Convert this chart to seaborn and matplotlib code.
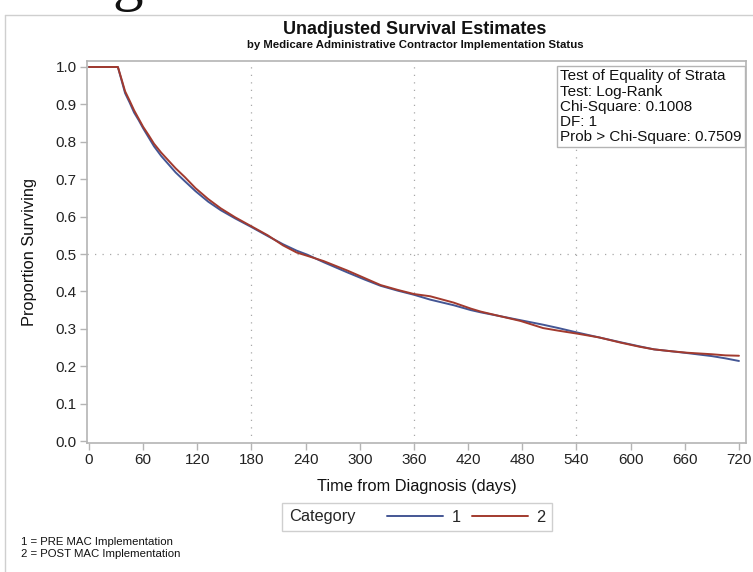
import matplotlib
matplotlib.use("Agg")
import matplotlib.pyplot as plt
from matplotlib import font_manager
from matplotlib.lines import Line2D
from matplotlib.offsetbox import HPacker
import pandas as pd
import seaborn as sns

# ---- Kaplan-Meier estimates (days, proportion surviving) ----
days_1 = [0, 32, 36, 40, 45, 50, 55, 60, 66, 72, 80, 88, 96, 106, 118, 132,
          146, 162, 180, 198, 215, 230, 242, 260, 286, 305, 323, 342, 360,
          378, 404, 423, 434, 455, 478, 503, 520, 541, 565, 589, 610, 626,
          645, 663, 690, 705, 720]
surv_1 = [1.0, 1.0, 0.965, 0.93, 0.905, 0.878, 0.858, 0.836, 0.812, 0.788,
          0.762, 0.740, 0.718, 0.695, 0.668, 0.640, 0.617, 0.595, 0.572,
          0.548, 0.526, 0.509, 0.498, 0.478, 0.451, 0.432, 0.415, 0.402,
          0.391, 0.378, 0.363, 0.350, 0.344, 0.334, 0.323, 0.311, 0.302,
          0.290, 0.277, 0.264, 0.253, 0.245, 0.240, 0.235, 0.227, 0.221,
          0.214]

days_2 = [0, 32, 36, 40, 45, 50, 55, 60, 66, 72, 80, 88, 96, 106, 118, 132,
          146, 162, 180, 198, 215, 230, 242, 260, 286, 305, 323, 342, 360,
          378, 404, 423, 434, 455, 478, 503, 520, 541, 565, 589, 610, 626,
          645, 663, 690, 705, 720]
surv_2 = [1.0, 1.0, 0.968, 0.935, 0.91, 0.884, 0.862, 0.840, 0.818, 0.795,
          0.771, 0.750, 0.729, 0.706, 0.676, 0.647, 0.622, 0.598, 0.574,
          0.550, 0.523, 0.504, 0.495, 0.481, 0.456, 0.436, 0.417, 0.404,
          0.393, 0.387, 0.370, 0.354, 0.346, 0.334, 0.321, 0.302, 0.295,
          0.287, 0.277, 0.263, 0.252, 0.245, 0.240, 0.236, 0.232, 0.229,
          0.228]

categories = ["1", "2"]
category_colors = ["#445694", "#A23A2E"]

x_ticks = list(range(0, 721, 60))
y_ticks = [round(v * 0.1, 1) for v in range(11)]
ref_days = [180, 360, 540]
ref_surv = 0.5

stats_lines = ["Test of Equality of Strata",
               "Test: Log-Rank",
               "Chi-Square: 0.1008",
               "DF: 1",
               "Prob > Chi-Square: 0.7509"]
footnotes = ["1 = PRE MAC Implementation",
             "2 = POST MAC Implementation"]

df = pd.concat([
    pd.DataFrame({"day": days_1, "surv": surv_1, "Category": categories[0]}),
    pd.DataFrame({"day": days_2, "surv": surv_2, "Category": categories[1]}),
], ignore_index=True)

sns.set_theme(style="white")
installed = {f.name for f in font_manager.fontManager.ttflist}
base_font = "Liberation Sans" if "Liberation Sans" in installed else "DejaVu Sans"
serif_font = "Liberation Serif" if "Liberation Serif" in installed else "DejaVu Serif"
plt.rcParams["font.family"] = [base_font, "DejaVu Sans"]

W, H = 753, 572
fig = plt.figure(figsize=(W / 100, H / 100), dpi=100)
fig.patch.set_facecolor("white")


def fx(px):
    return px / W


def fy(py):
    return 1 - py / H


ax_l, ax_r, ax_t, ax_b = 87, 746, 61, 443
ax = fig.add_axes([fx(ax_l), fy(ax_b), (ax_r - ax_l) / W, (ax_b - ax_t) / H])

# reference lines
for d in ref_days:
    ax.axvline(d, color="#a8a8a8", lw=0.9, ls=(0, (1, 5)), zorder=1)
ax.axhline(ref_surv, color="#a8a8a8", lw=0.9, ls=(0, (1, 5)), zorder=1)

sns.lineplot(data=df, x="day", y="surv", hue="Category",
             palette=dict(zip(categories, category_colors)),
             estimator=None, sort=False, lw=1.4, legend=False, ax=ax, zorder=3)

ax.set_xlim(-2.2, 727.8)
ax.set_ylim(-0.0053, 1.016)
ax.set_xticks(x_ticks)
ax.set_yticks(y_ticks)
ax.set_yticklabels([f"{v:.1f}" for v in y_ticks])
ax.tick_params(axis="both", which="both", direction="out", length=5, width=1,
               color="#b4b4b4", labelcolor="#222222", labelsize=11, pad=2.5,
               bottom=True, left=True)
for s in ax.spines.values():
    s.set_color("#b4b4b4")
    s.set_linewidth(1.2)
ax.set_xlabel("Time from Diagnosis (days)", fontsize=11.8, color="#111111", labelpad=8)
ax.set_ylabel("Proportion Surviving", fontsize=11.8, color="#111111", labelpad=13)

# log-rank test inset
ax.text(0.718, 0.978, "\n".join(stats_lines), transform=ax.transAxes,
        ha="left", va="top", fontsize=11, color="#111111", linespacing=1.1,
        bbox=dict(boxstyle="square,pad=0.22", fc="white", ec="#b4b4b4", lw=1),
        zorder=5)

# titles
fig.text(fx(415), fy(29.5), "Unadjusted Survival Estimates", ha="center", va="center",
         fontsize=13, fontweight="bold", color="#111111")
fig.text(fx(415), fy(45.5), "by Medicare Administrative Contractor Implementation Status",
         ha="center", va="center", fontsize=8.2, fontweight="bold", color="#111111")

# legend: inline title followed by the two line entries
handles = [Line2D([], [], color=c, lw=1.4) for c in category_colors]
leg = fig.legend(handles, categories, title="Category", ncol=2, loc="center",
                 bbox_to_anchor=(fx(417), fy(517)), frameon=True, fancybox=False,
                 fontsize=11.8, title_fontsize=11.8, handlelength=3.4,
                 handletextpad=0.5, columnspacing=0.7, borderpad=0.3)
fs = leg._fontsize * 100 / 72
leg._legend_box = HPacker(pad=0.3 * fs, sep=1.4 * fs, align="center",
                          children=[leg._legend_title_box, leg._legend_handle_box])
leg._legend_box.set_figure(fig)
leg._legend_box.set_offset(leg._findoffset)
leg.get_frame().set_edgecolor("#c4c4c4")
leg.get_frame().set_linewidth(1)

# footnotes
fig.text(fx(21), fy(542), footnotes[0], ha="left", va="center", fontsize=8.2, color="#111111")
fig.text(fx(21), fy(554), footnotes[1], ha="left", va="center", fontsize=8.2, color="#111111")

# page heading descender running in from above the graph
fig.text(fx(112), fy(-1), "g", ha="left", va="baseline", fontsize=44,
         family=[serif_font, "DejaVu Serif"], color="#111111")

# outer frame of the graph region
fig.add_artist(Line2D([fx(4.5), fx(4.5)], [fy(15), fy(H + 5)], color="#cfcfcf", lw=1,
                      transform=fig.transFigure))
fig.add_artist(Line2D([fx(4.5), fx(W + 5)], [fy(15), fy(15)], color="#cfcfcf", lw=1,
                      transform=fig.transFigure))

fig.savefig("out.png", dpi=100, facecolor="white")
